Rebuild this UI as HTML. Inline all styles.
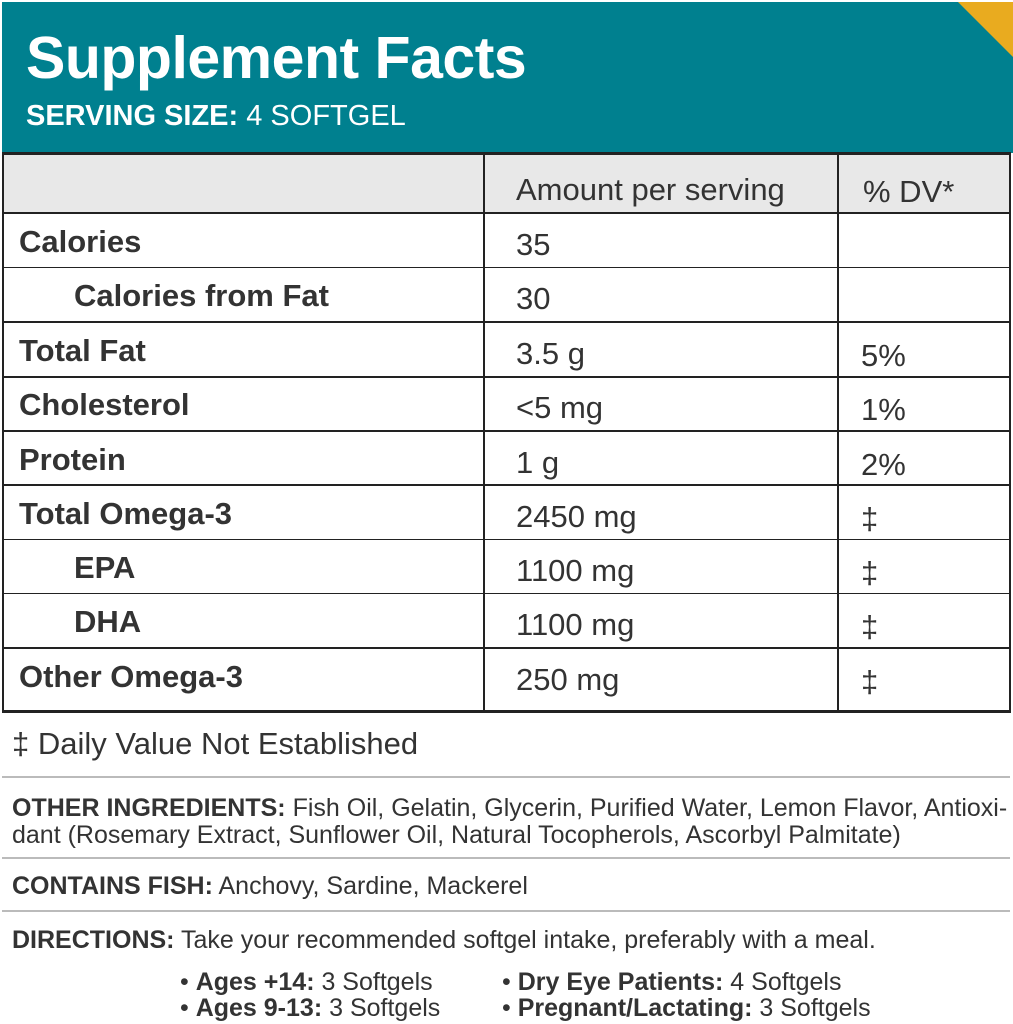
<!DOCTYPE html>
<html><head><meta charset="utf-8"><style>
*{margin:0;padding:0;box-sizing:border-box}
body{width:1013px;height:1024px;background:#fff;position:relative;overflow:hidden;font-family:"Liberation Sans",Arial,sans-serif;color:#333}
.a{position:absolute;white-space:nowrap}
.hdr{position:absolute;left:2px;top:2px;width:1011px;height:151px;background:#00808f;overflow:hidden}
.tri{position:absolute;right:0;top:0;width:0;height:0;border-top:55px solid #e9ab1f;border-left:55px solid transparent}
.hl{position:absolute;background:#222}
.gl{position:absolute;left:2px;width:1008px;height:2px;background:#bbb}
.t{font-size:31px}
b{font-weight:bold}
.s{font-size:25px}
</style></head><body>
<div class="hdr"><div class="tri"></div>
<div class="a" style="left:24px;top:22px;font-size:59px;font-weight:bold;color:#fff;letter-spacing:-0.5px">Supplement Facts</div>
<div class="a" style="left:24px;top:98px;font-size:29px;color:#fff"><b>SERVING SIZE:</b> 4 SOFTGEL</div>
</div>
<div style="position:absolute;left:2px;top:153px;width:1008px;height:60px;background:#e8e8e8"></div>
<div class="hl" style="left:2px;top:152px;width:1009px;height:3px"></div>
<div class="hl" style="left:2px;top:212px;width:1009px;height:2px"></div>
<div class="hl" style="left:2px;top:267px;width:1009px;height:1px"></div>
<div class="hl" style="left:2px;top:321px;width:1009px;height:2px"></div>
<div class="hl" style="left:2px;top:376px;width:1009px;height:2px"></div>
<div class="hl" style="left:2px;top:430px;width:1009px;height:2px"></div>
<div class="hl" style="left:2px;top:484px;width:1009px;height:2px"></div>
<div class="hl" style="left:2px;top:539px;width:1009px;height:1px"></div>
<div class="hl" style="left:2px;top:593px;width:1009px;height:1px"></div>
<div class="hl" style="left:2px;top:647px;width:1009px;height:2px"></div>
<div class="hl" style="left:2px;top:710px;width:1009px;height:3px"></div>
<div class="hl" style="left:2px;top:152px;width:2px;height:561px"></div>
<div class="hl" style="left:483px;top:152px;width:2px;height:561px"></div>
<div class="hl" style="left:837px;top:152px;width:2px;height:561px"></div>
<div class="hl" style="left:1009px;top:152px;width:2px;height:561px"></div>
<div class="a t" style="left:516px;top:172px">Amount per serving</div>
<div class="a t" style="left:863px;top:174px">% DV*</div>
<div class="a t" style="left:19px;top:224px"><b>Calories</b></div><div class="a t" style="left:516px;top:227px">35</div>
<div class="a t" style="left:74px;top:278px"><b>Calories from Fat</b></div><div class="a t" style="left:516px;top:281px">30</div>
<div class="a t" style="left:19px;top:333px"><b>Total Fat</b></div><div class="a t" style="left:516px;top:336px">3.5 g</div><div class="a t" style="left:861px;top:338px">5%</div>
<div class="a t" style="left:19px;top:387px"><b>Cholesterol</b></div><div class="a t" style="left:516px;top:390px">&lt;5 mg</div><div class="a t" style="left:861px;top:392px">1%</div>
<div class="a t" style="left:19px;top:442px"><b>Protein</b></div><div class="a t" style="left:516px;top:445px">1 g</div><div class="a t" style="left:861px;top:447px">2%</div>
<div class="a t" style="left:19px;top:496px"><b>Total Omega-3</b></div><div class="a t" style="left:516px;top:499px">2450 mg</div><div class="a t" style="left:861px;top:501px">‡</div>
<div class="a t" style="left:74px;top:550px"><b>EPA</b></div><div class="a t" style="left:516px;top:553px">1100 mg</div><div class="a t" style="left:861px;top:555px">‡</div>
<div class="a t" style="left:74px;top:604px"><b>DHA</b></div><div class="a t" style="left:516px;top:607px">1100 mg</div><div class="a t" style="left:861px;top:609px">‡</div>
<div class="a t" style="left:19px;top:659px"><b>Other Omega-3</b></div><div class="a t" style="left:516px;top:662px">250 mg</div><div class="a t" style="left:861px;top:664px">‡</div>
<div class="a t" style="left:12px;top:726px">‡ Daily Value Not Established</div>
<div class="gl" style="top:776px"></div>
<div class="a s" style="left:12px;top:794px"><b>OTHER INGREDIENTS:</b> Fish Oil, Gelatin, Glycerin, Purified Water, Lemon Flavor, Antioxi-</div>
<div class="a s" style="left:12px;top:821px">dant (Rosemary Extract, Sunflower Oil, Natural Tocopherols, Ascorbyl Palmitate)</div>
<div class="gl" style="top:857px"></div>
<div class="a s" style="left:12px;top:872px"><b>CONTAINS FISH:</b> Anchovy, Sardine, Mackerel</div>
<div class="gl" style="top:910px"></div>
<div class="a s" style="left:12px;top:926px"><b>DIRECTIONS:</b> Take your recommended softgel intake, preferably with a meal.</div>
<div class="a s" style="left:180px;top:968px">• <b>Ages +14:</b> 3 Softgels</div>
<div class="a s" style="left:180px;top:994px">• <b>Ages 9-13:</b> 3 Softgels</div>
<div class="a s" style="left:502px;top:968px">• <b>Dry Eye Patients:</b> 4 Softgels</div>
<div class="a s" style="left:502px;top:994px">• <b>Pregnant/Lactating:</b> 3 Softgels</div>
</body></html>
